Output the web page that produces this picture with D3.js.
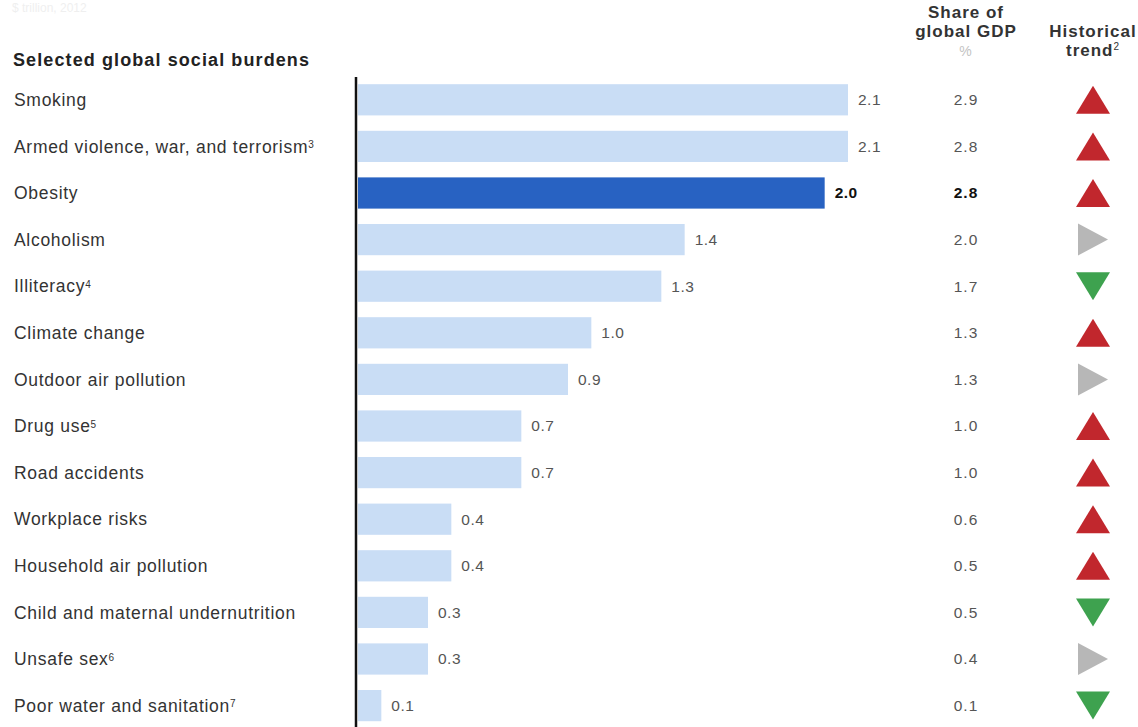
<!DOCTYPE html>
<html>
<head>
<meta charset="utf-8">
<script src="https://cdn.jsdelivr.net/npm/d3@7"></script>
<style>
  body { margin: 0; background: #fff; }
  svg { font-family: "Liberation Sans", Arial, sans-serif; }
</style>
</head>
<body>
<svg id="chart" width="1138" height="727"></svg>
<script>
var burdens = ["Smoking", "Armed violence, war, and terrorism", "Obesity", "Alcoholism",
  "Illiteracy", "Climate change", "Outdoor air pollution", "Drug use", "Road accidents",
  "Workplace risks", "Household air pollution", "Child and maternal undernutrition",
  "Unsafe sex", "Poor water and sanitation"];
var notes = ["", "3", "", "", "4", "", "", "5", "", "", "", "", "6", "7"];
var impact = [2.1, 2.1, 2.0, 1.4, 1.3, 1.0, 0.9, 0.7, 0.7, 0.4, 0.4, 0.3, 0.3, 0.1];
var gdpShare = [2.9, 2.8, 2.8, 2.0, 1.7, 1.3, 1.3, 1.0, 1.0, 0.6, 0.5, 0.5, 0.4, 0.1];
var trend = ["up", "up", "up", "flat", "down", "up", "flat", "up", "up", "up", "up", "down", "flat", "down"];
var highlight = "Obesity";

var rows = burdens.map(function (d, i) {
  return { name: d, note: notes[i], value: impact[i], share: gdpShare[i], trend: trend[i] };
});

var svg = d3.select("#chart");

var x = d3.scaleLinear().domain([0, 2.1]).range([358, 848]);
var y = d3.scaleBand()
  .domain(burdens)
  .range([76.5, 76.5 + 14 * 46.6])
  .paddingInner(0.33)
  .paddingOuter(0.165);

// faint unit line at the top
svg.append("text")
  .attr("x", 12).attr("y", 12)
  .attr("fill", "#efefef")
  .style("font-size", "12px")
  .text("$ trillion, 2012");

svg.append("text")
  .attr("x", 13).attr("y", 66)
  .attr("fill", "#222")
  .attr("font-weight", "bold")
  .style("font-size", "18px")
  .style("letter-spacing", "1.1px")
  .text("Selected global social burdens");

// column headers
var shareX = 966, trendX = 1093;
var hdr = svg.append("g").attr("font-weight", "bold").attr("fill", "#333")
  .attr("text-anchor", "middle").style("font-size", "17px").style("letter-spacing", "1px");
hdr.append("text").attr("x", shareX).attr("y", 18).text("Share of");
hdr.append("text").attr("x", shareX).attr("y", 37).text("global GDP");
hdr.append("text").attr("x", shareX).attr("y", 56).attr("font-weight", "normal")
  .attr("fill", "#c4c4c4").style("font-size", "14px").text("%");
hdr.append("text").attr("x", trendX).attr("y", 37).text("Historical");
var tr = hdr.append("text").attr("x", trendX).attr("y", 56);
tr.append("tspan").text("trend");
tr.append("tspan").attr("dy", -6).style("font-size", "10px").attr("font-weight", "normal").text("2");

// category labels
var lab = svg.selectAll(".lab").data(rows).enter().append("text")
  .attr("class", "lab")
  .attr("x", 14)
  .attr("y", function (d) { return y(d.name) + y.bandwidth() / 2; })
  .attr("dy", "0.35em")
  .attr("fill", "#333")
  .style("font-size", "17.5px")
  .style("letter-spacing", "0.7px");
lab.append("tspan").text(function (d) { return d.name; });
lab.append("tspan").attr("dy", "-0.45em").style("font-size", "10px")
  .text(function (d) { return d.note; });

// bars
svg.selectAll(".bar").data(rows).enter().append("rect")
  .attr("class", "bar")
  .attr("x", x(0))
  .attr("y", function (d) { return y(d.name); })
  .attr("width", function (d) { return x(d.value) - x(0); })
  .attr("height", y.bandwidth())
  .attr("fill", function (d) { return d.name === highlight ? "#2862c2" : "#c9ddf5"; });

// value labels
svg.selectAll(".val").data(rows).enter().append("text")
  .attr("class", "val")
  .attr("x", function (d) { return x(d.value) + 10; })
  .attr("y", function (d) { return y(d.name) + y.bandwidth() / 2; })
  .attr("dy", "0.35em")
  .attr("fill", function (d) { return d.name === highlight ? "#111" : "#555"; })
  .attr("font-weight", function (d) { return d.name === highlight ? "bold" : "normal"; })
  .style("font-size", "15.5px")
  .style("letter-spacing", "0.5px")
  .text(function (d) { return d.value.toFixed(1); });

// axis line
svg.append("line")
  .attr("x1", 356).attr("x2", 356)
  .attr("y1", 77).attr("y2", 727)
  .attr("stroke", "#111").attr("stroke-width", 2.5);

// share column
svg.selectAll(".share").data(rows).enter().append("text")
  .attr("class", "share")
  .attr("x", shareX)
  .attr("y", function (d) { return y(d.name) + y.bandwidth() / 2; })
  .attr("dy", "0.35em")
  .attr("text-anchor", "middle")
  .attr("fill", function (d) { return d.name === highlight ? "#111" : "#555"; })
  .attr("font-weight", function (d) { return d.name === highlight ? "bold" : "normal"; })
  .style("font-size", "15.5px")
  .style("letter-spacing", "1px")
  .text(function (d) { return d.share.toFixed(1); });

// trend markers
var shapes = {
  up: "M0,-14L17,14L-17,14Z",
  down: "M0,14L17,-14L-17,-14Z",
  flat: "M15,0L-15,-16L-15,16Z"
};
var colors = { up: "#c1272d", down: "#3ea24f", flat: "#b7b7b7" };
svg.selectAll(".trend").data(rows).enter().append("path")
  .attr("class", "trend")
  .attr("transform", function (d) {
    return "translate(" + trendX + "," + (y(d.name) + y.bandwidth() / 2) + ")";
  })
  .attr("d", function (d) { return shapes[d.trend]; })
  .attr("fill", function (d) { return colors[d.trend]; });
</script>
</body>
</html>
